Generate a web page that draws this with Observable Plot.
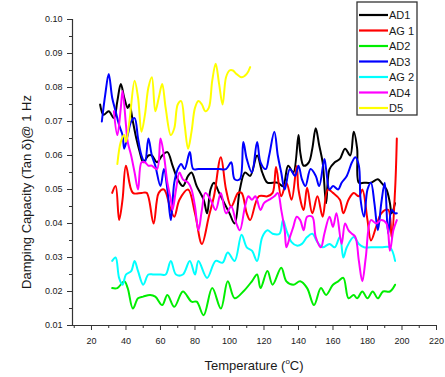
<!DOCTYPE html>
<html>
<head>
<meta charset="utf-8">
<script src="https://cdn.jsdelivr.net/npm/d3@7"></script>
<script src="https://cdn.jsdelivr.net/npm/@observablehq/plot@0.6"></script>
<style>
  html, body { margin: 0; padding: 0; background: #fff; }
  #chart svg { display: block; }
</style>
</head>
<body>
<div id="chart"></div>
<script>
// ---------- data ----------
const seriesNames = ["AD1", "AG 1", "AD2", "AD3", "AG 2", "AD4", "D5"];
const seriesColors = ["#000000", "#ff0000", "#00ee00", "#0000ff", "#00ffff", "#ff00ff", "#ffff00"];

const xTicks = [20, 40, 60, 80, 100, 120, 140, 160, 180, 200, 220];
const xMinorTicks = [10, 30, 50, 70, 90, 110, 130, 150, 170, 190, 210];
const yTicks = [0.01, 0.02, 0.03, 0.04, 0.05, 0.06, 0.07, 0.08, 0.09, 0.10];
const yMinorTicks = [0.015, 0.025, 0.035, 0.045, 0.055, 0.065, 0.075, 0.085, 0.095];

const ad1X = [25,27,30,33,35,37,39,41,42,44,46,48,50,53,55,58,61,64,67,70,73,76,78,81,85,87,89,91,94,97,100,103,106,109,112,116,119,122,125,128,131,134,137,140,141,143,146,148,150,152,154,156,158,161,164,167,170,172,174,175,178,182,186,188,191,193,194,196];
const ad1Y = [.075,.072,.073,.071,.076,.081,.077,.074,.075,.070,.065,.061,.058,.060,.060,.058,.060,.061,.057,.053,.051,.054,.055,.051,.047,.043,.050,.052,.049,.046,.043,.040,.050,.055,.054,.060,.055,.052,.052,.052,.051,.057,.055,.066,.061,.057,.058,.062,.068,.063,.058,.046,.056,.058,.059,.062,.060,.067,.062,.052,.052,.052,.053,.052,.050,.046,.043,.046];

const ag1X = [32,34,36,38,40,44,49,52,56,59,62,66,68,71,76,80,84,88,91,95,98,101,105,107,110,112,117,122,125,127,130,133,136,139,140,143,145,148,151,154,157,160,164,166,169,172,175,177,180,182,185,188,192,194,196,197];
const ag1Y = [.049,.051,.041,.047,.057,.049,.049,.049,.040,.049,.050,.044,.042,.047,.050,.043,.034,.042,.048,.0595,.050,.045,.049,.049,.043,.041,.048,.048,.049,.0566,.048,.052,.047,.057,.050,.044,.0505,.043,.048,.042,.050,.049,.047,.043,.047,.049,.048,.050,.041,.035,.039,.043,.044,.036,.050,.065];

const ad2X = [32,35,39,41,44,47,50,54,57,61,64,68,73,78,81,85,90,95,99,103,108,113,116,118,122,125,130,133,137,141,145,149,153,156,160,163,166,169,172,174,177,180,183,186,189,193,196];
const ad2Y = [.021,.021,.023,.021,.015,.018,.0185,.019,.0185,.016,.019,.0155,.020,.017,.017,.013,.021,.015,.023,.018,.020,.023,.025,.021,.026,.022,.027,.023,.022,.023,.021,.016,.021,.019,.022,.023,.024,.018,.019,.018,.020,.018,.020,.018,.020,.020,.022];

const ad3X = [26,28,30,32,34,36,38,39,41,43,45,47,49,51,53,55,57,60,62,64,66,68,70,72,74,77,79,82,86,90,94,98,101,103,106,108,110,113,116,118,121,123,126,128,130,132,135,138,140,142,144,147,150,152,155,156,158,160,163,165,168,171,173,175,176,178,180,182,184,186,188,190,192,194,196,197];
const ad3Y = [.070,.078,.084,.077,.073,.069,.066,.062,.066,.070,.071,.065,.060,.058,.065,.060,.057,.051,.056,.050,.041,.052,.056,.0575,.056,.061,.056,.056,.056,.056,.056,.056,.058,.053,.053,.064,.059,.055,.064,.058,.056,.060,.067,.060,.055,.050,.056,.054,.057,.053,.051,.056,.054,.051,.059,.056,.050,.051,.050,.052,.054,.058,.0595,.057,.047,.042,.050,.052,.046,.038,.046,.052,.037,.044,.043,.043];

const ag2X = [32,34,36,38,40,43,45,47,50,53,56,60,63,66,69,73,77,80,82,87,92,96,99,103,107,110,113,116,119,122,125,129,131,133,136,139,142,145,148,151,154,158,161,164,166,168,172,175,178,182,188,193,196];
const ag2Y = [.029,.030,.024,.022,.025,.026,.029,.026,.022,.025,.025,.025,.025,.029,.025,.025,.029,.025,.029,.024,.029,.0285,.0315,.029,.0367,.033,.032,.029,.036,.038,.037,.037,.041,.038,.0345,.0335,.034,.036,.037,.0345,.033,.034,.033,.036,.030,.033,.036,.034,.033,.033,.033,.033,.029];

const ad4X = [33,35,37,38,40,41,43,45,47,49,51,53,55,58,60,62,64,66,67,69,71,73,76,78,80,82,84,86,89,92,95,98,101,104,106,109,111,113,115,118,120,123,126,128,130,132,133,135,137,139,141,143,145,148,150,153,155,158,160,162,165,167,169,171,173,175,177,179,182,185,188,191,193,195,197];
const ad4Y = [.073,.066,.074,.079,.069,.064,.060,.055,.050,.058,.058,.057,.057,.056,.065,.060,.052,.047,.044,.050,.055,.053,.052,.050,.045,.038,.044,.049,.047,.044,.049,.043,.045,.040,.038,.045,.048,.047,.048,.044,.046,.047,.048,.049,.044,.038,.033,.036,.039,.042,.041,.038,.042,.042,.036,.033,.037,.042,.039,.043,.034,.040,.038,.037,.036,.029,.023,.030,.041,.040,.041,.040,.032,.038,.041];

const d5X = [35,37,39,40,42,45,47,49,51,53,55,57,59,61,63,66,68,70,72,74,76,78,80,82,84,86,88,90,92,94,96,98,100,102,104,107,110,112];
const d5Y = [.0575,.064,.066,.064,.070,.082,.077,.067,.072,.080,.083,.073,.077,.081,.074,.066,.068,.075,.076,.069,.062,.067,.074,.076,.075,.073,.074,.082,.087,.081,.075,.083,.085,.085,.084,.083,.084,.086];

const seriesX = [ad1X, ag1X, ad2X, ad3X, ag2X, ad4X, d5X];
const seriesY = [ad1Y, ag1Y, ad2Y, ad3Y, ag2Y, ad4Y, d5Y];

const xDomain = [9, 220];
const yDomain = [0.01, 0.10];

// ---------- table ----------
const rows = [];
seriesNames.forEach((name, i) => {
  seriesX[i].forEach((x, j) => rows.push({series: name, x, y: seriesY[i][j]}));
});

const chart = Plot.plot({
  width: 445,
  height: 377,
  marginLeft: 72,
  marginRight: 9,
  marginTop: 19,
  marginBottom: 52,
  x: {domain: xDomain},
  y: {domain: yDomain},
  color: {domain: seriesNames, range: seriesColors},
  style: {fontFamily: "'Liberation Sans', Arial, sans-serif", fontSize: "9px", color: "#1a1a1a", background: "#fff", overflow: "visible"},
  marks: [
    Plot.axisX({ticks: xTicks, tickSize: 5, tickPadding: 7, label: null, tickFormat: d => String(d), stroke: "#333"}),
    Plot.axisX({ticks: xMinorTicks, tickSize: 3, text: null, label: null, stroke: "#333"}),
    Plot.axisY({ticks: yTicks, tickSize: 5, tickPadding: 5, tickFormat: ".2f", label: null, stroke: "#333"}),
    Plot.axisY({ticks: yMinorTicks, tickSize: 3, text: null, label: null, stroke: "#333"}),
    Plot.ruleX([xDomain[0]], {stroke: "#333", strokeWidth: 1.2}),
    Plot.ruleY([yDomain[0]], {stroke: "#333", strokeWidth: 1.2}),
    Plot.line(rows, {x: "x", y: "y", z: "series", stroke: "series", strokeWidth: 2, curve: "catmull-rom"})
  ]
});

document.getElementById("chart").appendChild(chart);

// ---------- axis titles and legend ----------
const svg = d3.select(chart);
const font = "'Liberation Sans', Arial, sans-serif";
const xt = svg.append("text")
  .attr("x", 254).attr("y", 370)
  .attr("text-anchor", "middle")
  .attr("font-size", 13)
  .attr("fill", "#1a1a1a")
  .attr("font-family", font);
xt.append("tspan").text("Temperature (");
xt.append("tspan").attr("font-size", 8).attr("dy", -6).text("o");
xt.append("tspan").attr("dy", 6).text("C)");

svg.append("text")
  .attr("transform", "translate(31,192) rotate(-90)")
  .attr("text-anchor", "middle")
  .attr("font-size", 13)
  .attr("fill", "#1a1a1a")
  .attr("font-family", font)
  .text("Damping Capacity (Tan δ)@ 1 Hz");

const lg = svg.append("g");
lg.append("rect")
  .attr("x", 357).attr("y", 2).attr("width", 60).attr("height", 113)
  .attr("fill", "#fff").attr("stroke", "#333").attr("stroke-width", 1.3);
seriesNames.forEach((name, i) => {
  const yy = 15 + i * 15.5;
  lg.append("line").attr("x1", 359).attr("x2", 388).attr("y1", yy).attr("y2", yy)
    .attr("stroke", seriesColors[i]).attr("stroke-width", 2.2);
  lg.append("text").attr("x", 389).attr("y", yy + 4)
    .attr("text-anchor", "start")
    .attr("font-size", 11).attr("fill", "#1a1a1a")
    .attr("font-family", font)
    .text(name);
});
</script>
</body>
</html>
